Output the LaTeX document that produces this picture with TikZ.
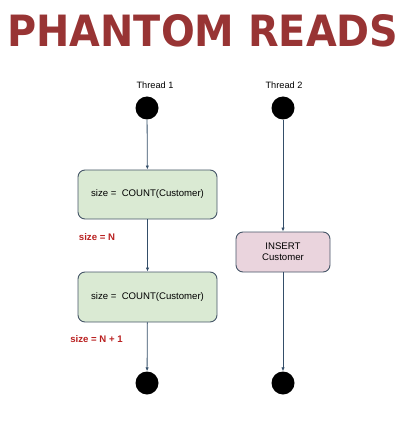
\documentclass[tikz,border=0pt]{standalone}
\usepackage{fontspec}
\setmainfont{Liberation Sans}
\newfontfamily\titlefont{DejaVu Sans}
\usetikzlibrary{arrows.meta}
\definecolor{titlered}{RGB}{152,52,52}
\definecolor{flowline}{RGB}{52,78,105}
\definecolor{boxedge}{RGB}{70,86,104}
\definecolor{countfill}{RGB}{218,234,211}
\definecolor{insertfill}{RGB}{234,212,221}
\definecolor{notered}{RGB}{185,32,32}

\tikzset{
	startend/.style={circle, fill=black, inner sep=0pt, minimum size=23pt},
	action/.style={draw=boxedge, line width=0.9pt, rounded corners=7pt, align=center, font=\fontsize{9.6}{11}\selectfont},
	threadlabel/.style={font=\fontsize{9.2}{11}\selectfont},
	sizenote/.style={text=notered, font=\bfseries\fontsize{9.6}{11}\selectfont},
	flow/.style={draw=flowline, line width=0.8pt, -{Latex[length=1.4mm,width=1.2mm]}}
}

\begin{document}
\begin{tikzpicture}[x=1pt, y=-1pt]
	\useasboundingbox (0,0) rectangle (409,427);
	\node (title) at (203,31) {\resizebox{391pt}{32pt}{\titlefont\bfseries\color{titlered}PHANTOM READS}};
	% thread 1
	\node[threadlabel] (t1label) at (155,85) {Thread 1};
	\node[startend] (t1start) at (147,108) {};
	\node[action, fill=countfill, minimum width=139pt, minimum height=49pt] (t1count) at (147.5,194.5) {size =\ \ COUNT(Customer)};
	\node[sizenote] (t1note) at (97,237) {size = N};
	\node[action, fill=countfill, minimum width=139pt, minimum height=50pt] (t1recount) at (147.5,297) {size =\ \ COUNT(Customer)};
	\node[sizenote] (t1note2) at (96.5,339) {size = N + 1};
	\node[startend] (t1end) at (147,383) {};
	\draw[flow] (t1start) -- (t1count);
	\draw[flow] (t1count) -- (t1recount);
	\draw[flow] (t1recount) -- (t1end);
	% thread 2
	\node[threadlabel] (t2label) at (284,85) {Thread 2};
	\node[startend] (t2start) at (283,108) {};
	\node[action, fill=insertfill, minimum width=94pt, minimum height=40pt] (t2insert) at (283,252) {INSERT\\Customer};
	\node[startend] (t2end) at (283,383) {};
	\draw[flow] (t2start) -- (t2insert);
	\draw[flow] (t2insert) -- (t2end);
\end{tikzpicture}
\end{document}
